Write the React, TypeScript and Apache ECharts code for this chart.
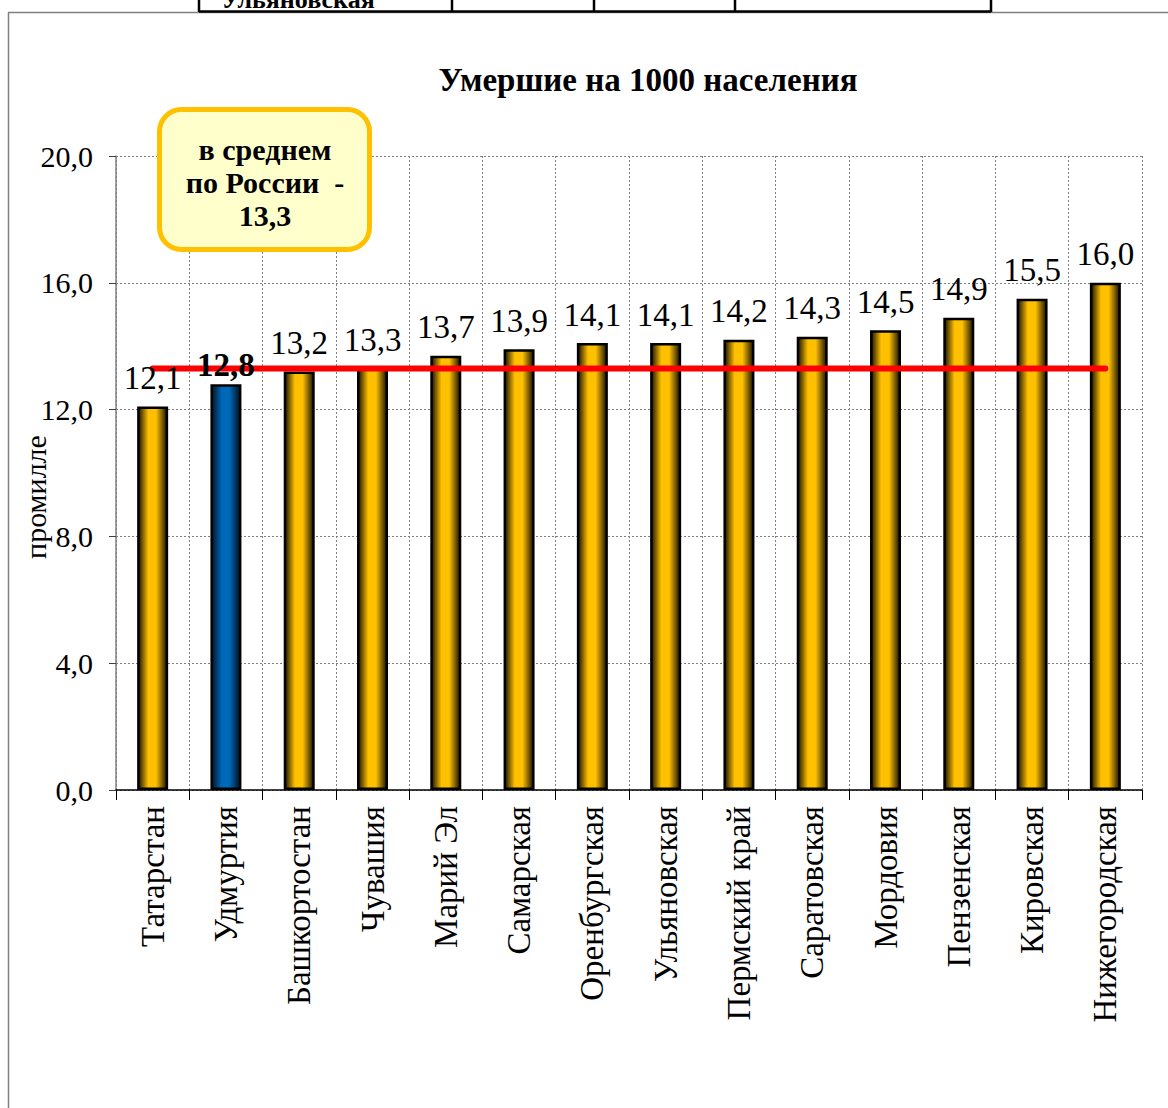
import React, { useEffect, useRef } from "react";
import * as echarts from "echarts";

const categories = [
  "Татарстан", "Удмуртия", "Башкортостан", "Чувашия", "Марий Эл", "Самарская",
  "Оренбургская", "Ульяновская", "Пермский край", "Саратовская", "Мордовия",
  "Пензенская", "Кировская", "Нижегородская",
];
const deaths = [12.1, 12.8, 13.2, 13.3, 13.7, 13.9, 14.1, 14.1, 14.2, 14.3, 14.5, 14.9, 15.5, 16.0];
const russiaAverage = 13.3;
const highlightIndex = 1;
const yTicks = { min: 0, max: 20, interval: 4 };
const titleText = "Умершие на 1000 населения";
const yAxisTitle = "промилле";
const calloutLines = ["в среднем", "по России  -", "13,3"];

const SERIF = "'Liberation Serif', 'Times New Roman', serif";

const fmt = (v: number) => v.toFixed(1).replace(".", ",");

const goldGrad = {
  type: "linear", x: 0, y: 0, x2: 1, y2: 0,
  colorStops: [
    { offset: 0, color: "#1a1200" },
    { offset: 0.35, color: "#FFC000" },
    { offset: 0.62, color: "#FFC000" },
    { offset: 1, color: "#1a1200" },
  ],
};
const blueGrad = {
  type: "linear", x: 0, y: 0, x2: 1, y2: 0,
  colorStops: [
    { offset: 0, color: "#00101f" },
    { offset: 0.35, color: "#0068B8" },
    { offset: 0.62, color: "#0068B8" },
    { offset: 1, color: "#00101f" },
  ],
};

export default function App() {
  const ref = useRef<HTMLDivElement>(null);
  useEffect(() => {
    if (!ref.current) return;
    const chart = echarts.init(ref.current, null, { renderer: "svg" });
    const option: any = {
      animation: false,
      backgroundColor: "#ffffff",
      grid: { left: 116, right: 26, top: 156, bottom: 318, containLabel: false },
      title: {
        text: titleText,
        left: 643,
        textAlign: "center",
        top: 58,
        textStyle: { fontFamily: SERIF, fontSize: 33, fontWeight: "bold", color: "#000" },
      },
      xAxis: {
        type: "category",
        data: categories,
        boundaryGap: true,
        axisLine: { show: true, lineStyle: { color: "#000", width: 1.5 } },
        axisTick: { show: true, length: 10, lineStyle: { color: "#000" } },
        splitLine: { show: true, lineStyle: { color: "#808080", type: [2, 2], width: 1 } },
        axisLabel: {
          rotate: 90,
          margin: 16,
          interval: 0,
          fontFamily: SERIF,
          fontSize: 33,
          color: "#000",
        },
      },
      yAxis: {
        type: "value",
        min: yTicks.min,
        max: yTicks.max,
        interval: yTicks.interval,
        axisLine: { show: true, lineStyle: { color: "#808080", width: 1.5 } },
        axisTick: { show: true, length: 7, lineStyle: { color: "#404040" } },
        splitLine: { show: true, lineStyle: { color: "#808080", type: [2, 2], width: 1 } },
        axisLabel: {
          formatter: (v: number) => fmt(v),
          fontFamily: SERIF,
          fontSize: 30,
          color: "#000",
          margin: 23,
        },
      },
      series: [
        {
          type: "bar",
          z: 2,
          barWidth: 31,
          data: deaths.map((v, i) => ({
            value: v,
            itemStyle: {
              color: i === highlightIndex ? blueGrad : goldGrad,
              borderColor: "#000",
              borderWidth: 2.5,
            },
          })),
        },
        {
          type: "line",
          z: 3,
          data: categories.map(() => russiaAverage),
          symbol: "none",
          lineStyle: { color: "#FF0000", width: 6, cap: "round" },
        },
        {
          type: "scatter",
          z: 5,
          symbolSize: 0,
          itemStyle: { opacity: 1 },
          data: deaths.map((v, i) => ({
            value: v,
            label: {
              show: true,
              position: "top",
              distance: i === highlightIndex ? 3 : 12,
              formatter: () => fmt(v),
              fontFamily: SERIF,
              fontSize: 33,
              fontWeight: i === highlightIndex ? "bold" : "normal",
              color: "#000",
              opacity: 1,
            },
          })),
        },
      ],
      graphic: [
        // outer frame
        { type: "line", shape: { x1: 8.5, y1: 12.5, x2: 8.5, y2: 1108 }, style: { stroke: "#808080", lineWidth: 1.5 } },
        { type: "line", shape: { x1: 8, y1: 12.5, x2: 1168, y2: 12.5 }, style: { stroke: "#808080", lineWidth: 1.5 } },
        // table fragment above
        { type: "text", x: 298, y: 12, style: { text: "Ульяновская", font: "bold 26px " + SERIF, fill: "#000", align: "center", verticalAlign: "bottom" } },
        { type: "line", shape: { x1: 199, y1: 11.5, x2: 991, y2: 11.5 }, style: { stroke: "#000", lineWidth: 2.5 } },
        { type: "line", shape: { x1: 199, y1: 0, x2: 199, y2: 12 }, style: { stroke: "#000", lineWidth: 2.5 } },
        { type: "line", shape: { x1: 452, y1: 0, x2: 452, y2: 12 }, style: { stroke: "#000", lineWidth: 2.5 } },
        { type: "line", shape: { x1: 594, y1: 0, x2: 594, y2: 12 }, style: { stroke: "#000", lineWidth: 2.5 } },
        { type: "line", shape: { x1: 735, y1: 0, x2: 735, y2: 12 }, style: { stroke: "#000", lineWidth: 2.5 } },
        { type: "line", shape: { x1: 991, y1: 0, x2: 991, y2: 12 }, style: { stroke: "#000", lineWidth: 2.5 } },
        // y-axis title
        {
          type: "text",
          x: 35,
          y: 497,
          rotation: Math.PI / 2,
          style: { text: yAxisTitle, font: "30px " + SERIF, fill: "#000", align: "center", verticalAlign: "middle" },
        },
        // callout box
        {
          type: "rect",
          z: 10,
          shape: { x: 159.5, y: 109.5, width: 210, height: 140, r: 22 },
          style: { fill: "#FFFFCC", stroke: "#FFC000", lineWidth: 5 },
        },
        ...calloutLines.map((line, i) => ({
          type: "text",
          z: 11,
          x: 265,
          y: 149 + i * 33,
          style: {
            text: line,
            font: "bold 30px " + SERIF,
            fill: "#000",
            align: "center",
            verticalAlign: "middle",
          },
        })),
      ],
    };
    chart.setOption(option);
    return () => chart.dispose();
  }, []);
  return (
    <div
      ref={ref}
      style={{ position: "absolute", left: 0, top: 0, width: 1168, height: 1108 }}
    />
  );
}
